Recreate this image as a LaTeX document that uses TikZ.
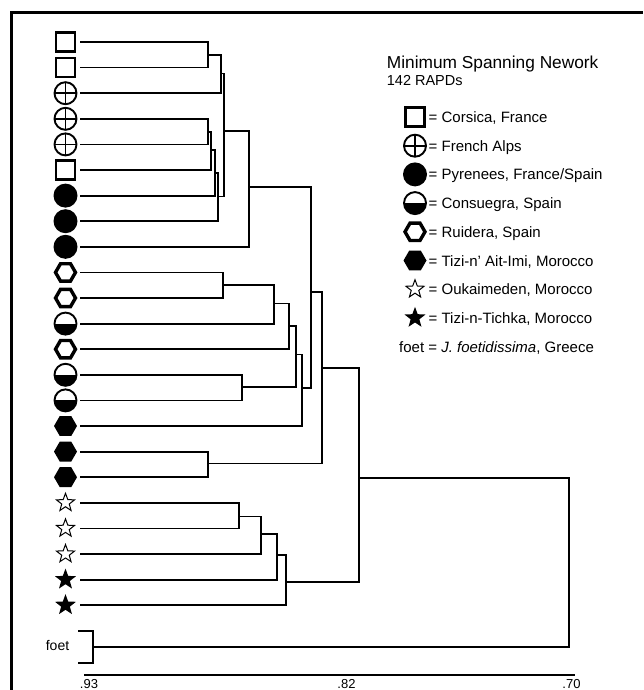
\documentclass[tikz,border=0pt]{standalone}
\usepackage{fontspec}
\setmainfont{Liberation Sans}
\usetikzlibrary{shapes.geometric}
\begin{document}
\begin{tikzpicture}[x=1pt,y=-1pt,
  br/.style={line width=1.8pt, line join=miter},
  sqsym/.style={rectangle, draw, line width=2.8pt, minimum size=19pt, inner sep=0},
  plussym/.style={circle, draw, line width=1.9pt, minimum size=22pt, inner sep=0,
    path picture={\draw[line width=1.6pt] (path picture bounding box.north) -- (path picture bounding box.south) (path picture bounding box.west) -- (path picture bounding box.east);}},
  dotsym/.style={circle, fill=black, minimum size=24pt, inner sep=0},
  halfsym/.style={circle, draw, line width=1.9pt, minimum size=22pt, inner sep=0,
    path picture={\fill (path picture bounding box.west) rectangle (path picture bounding box.south east);}},
  hexsym/.style={regular polygon, regular polygon sides=6, draw, line width=3.4pt, minimum size=20pt, inner sep=0},
  hexfill/.style={regular polygon, regular polygon sides=6, fill=black, minimum size=23pt, inner sep=0},
  staro/.style={star, star points=5, star point ratio=2.4, draw, line width=1pt, minimum size=19pt, inner sep=0},
  starf/.style={star, star points=5, star point ratio=2.4, fill=black, minimum size=22pt, inner sep=0},
  lg/.style={anchor=base west, inner sep=0, font=\fontsize{15}{15}\selectfont},
  ax/.style={anchor=base, inner sep=0, font=\fontsize{13}{13}\selectfont}
]
\useasboundingbox (0,0) rectangle (643,690);

% frame
\coordinate (fr0) at (11,690);
\coordinate (fr1) at (11,13);
\coordinate (fr2) at (643,13);
\draw[line width=3pt] (fr0) -- (fr1) -- (fr2);

% leaf symbols and leaf line starts
\foreach \i/\s in {1/sqsym,2/sqsym,3/plussym,4/plussym,5/plussym,6/sqsym,7/dotsym,8/dotsym,9/dotsym,10/hexsym,11/hexsym,12/halfsym,13/hexsym,14/halfsym,15/halfsym,16/hexfill,17/hexfill,18/hexfill,19/staro,20/staro,21/staro,22/starf,23/starf}{
  \node[\s] (s\i) at (65.5,{42+(\i-1)*25.6}) {};
  \coordinate (l\i) at (80,{42+(\i-1)*25.6});
}

% cluster points
\coordinate (c1) at (208.3,55);
\coordinate (c2) at (220.7,73.5);
\coordinate (c3) at (208.3,132);
\coordinate (c4) at (211,150);
\coordinate (c5) at (215,173);
\coordinate (c6) at (218.3,196.5);
\coordinate (c7) at (224.3,131);
\coordinate (c8) at (249.3,187);
\coordinate (c9) at (223.3,285);
\coordinate (c10) at (274.3,303.5);
\coordinate (c11) at (289.3,326);
\coordinate (c12) at (242.3,387);
\coordinate (c13) at (296,354.5);
\coordinate (c14) at (301.7,388);
\coordinate (c15) at (311,291.7);
\coordinate (c16) at (208.3,463.5);
\coordinate (c17) at (321.7,368.3);
\coordinate (c18) at (239.3,516.5);
\coordinate (c19) at (260.7,534);
\coordinate (c20) at (276.7,555);
\coordinate (c21) at (286,582);
\coordinate (c22) at (359.3,478.3);
\coordinate (c23) at (569,478.3);

% foet
\node[inner sep=0, font=\fontsize{14}{14}\selectfont] (foet) at (57.5,645) {foet};
\coordinate (ft1) at (78.3,630.7);
\coordinate (fb) at (93.3,647);
\coordinate (ft2) at (78.3,663.3);
\draw[br] (ft1) -| (fb) |- (ft2);

% dendrogram
\draw[br] (l1) -| (c1) |- (l2);
\draw[br] (c1) -| (c2) |- (l3);
\draw[br] (l4) -| (c3) |- (l5);
\draw[br] (c3) -| (c4) |- (l6);
\draw[br] (c4) -| (c5) |- (l7);
\draw[br] (c5) -| (c6) |- (l8);
\draw[br] (c2) -| (c7) |- (c6);
\draw[br] (c7) -| (c8) |- (l9);
\draw[br] (l10) -| (c9) |- (l11);
\draw[br] (c9) -| (c10) |- (l12);
\draw[br] (c10) -| (c11) |- (l13);
\draw[br] (l14) -| (c12) |- (l15);
\draw[br] (c11) -| (c13) |- (c12);
\draw[br] (c13) -| (c14) |- (l16);
\draw[br] (c8) -| (c15) |- (c14);
\draw[br] (l17) -| (c16) |- (l18);
\draw[br] (c15) -| (c17) |- (c16);
\draw[br] (l19) -| (c18) |- (l20);
\draw[br] (c18) -| (c19) |- (l21);
\draw[br] (c19) -| (c20) |- (l22);
\draw[br] (c20) -| (c21) |- (l23);
\draw[br] (c17) -| (c22) |- (c21);
\draw[br] (c22) -| (c23) |- (fb);

% axis
\coordinate (a0) at (84,675);
\coordinate (a1) at (575,675);
\draw[line width=1.3pt] (a0) -- (a1);
\node[ax] (t93) at (89,688.5) {.93};
\node[ax] (t82) at (346.5,688.5) {.82};
\node[ax] (t70) at (571.5,688.5) {.70};

% legend
\node[anchor=base west, inner sep=0, font=\fontsize{17.3}{17.3}\selectfont] (title) at (386.7,69) {Minimum Spanning Nework};
\node[anchor=base west, inner sep=0, font=\fontsize{14.5}{14.5}\selectfont] (sub) at (386.7,85.5) {142 RAPDs};

\foreach \j/\s/\t in {0/sqsym/{Corsica, France},1/plussym/{French Alps},2/dotsym/{Pyrenees, France/Spain},3/halfsym/{Consuegra, Spain},4/hexsym/{Ruidera, Spain},5/hexfill/{Tizi-n' Ait-Imi, Morocco},6/staro/{Oukaimeden, Morocco},7/starf/{Tizi-n-Tichka, Morocco}}{
  \node[\s] (ls\j) at (415,{117+28.7*\j}) {};
  \node[lg] (lt\j) at (428.5,{117+28.7*\j+5.5}) {= \t};
}
\node[lg] (lfoet) at (399,{117+28.7*8+5.5}) {foet = \textit{J. foetidissima}, Greece};
\end{tikzpicture}
\end{document}
